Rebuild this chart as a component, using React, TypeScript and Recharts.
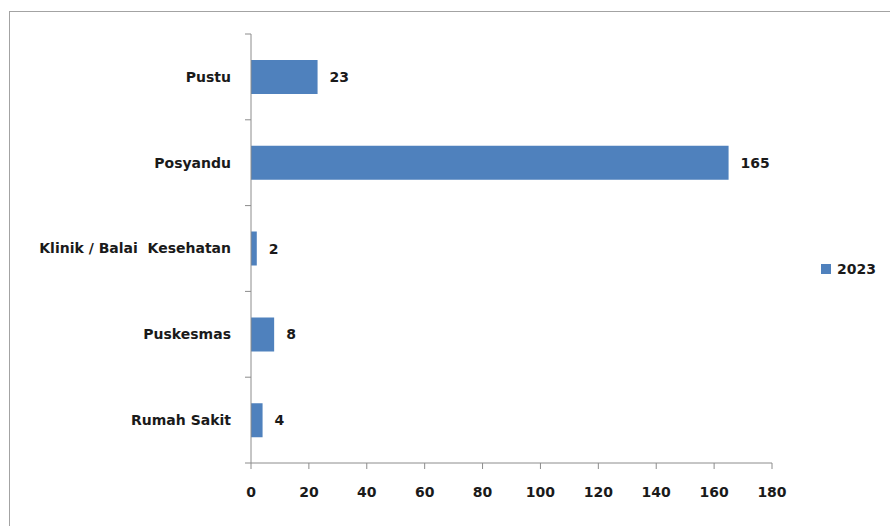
import React from 'react';
import { BarChart, Bar, XAxis, YAxis, Legend, LabelList } from 'recharts';

const categories = ['Pustu', 'Posyandu', 'Klinik / Balai  Kesehatan', 'Puskesmas', 'Rumah Sakit'];
const values2023 = [23, 165, 2, 8, 4];
const xTicks = [0, 20, 40, 60, 80, 100, 120, 140, 160, 180];
const seriesName = '2023';

const data = categories.map((name, i) => ({ name, v: values2023[i] }));

const FONT = "'DejaVu Sans', sans-serif";
const TEXT = '#1a1a1a';
const AXIS = '#8c8c8c';
const BAR = '#4F81BD';
const FS = 14;

const CHART_W = 890;
const CHART_H = 526;
const MARGIN = { top: 34, right: 118, bottom: 33, left: 11 };
const X_AXIS_H = 30;
const Y_AXIS_W = 240;
const plotH = CHART_H - MARGIN.top - MARGIN.bottom - X_AXIS_H;
const band = plotH / categories.length;

const YTick = (props: any) => {
  const { x, y, payload, index } = props;
  const half = band / 2;
  return (
    <g>
      <line x1={x - 6} x2={x} y1={y - half} y2={y - half} stroke={AXIS} strokeWidth={1} />
      {index === categories.length - 1 && (
        <line x1={x - 6} x2={x} y1={y + half} y2={y + half} stroke={AXIS} strokeWidth={1} />
      )}
      <text
        x={x - 20}
        y={y}
        dy="0.35em"
        textAnchor="end"
        fill={TEXT}
        fontFamily={FONT}
        fontWeight="bold"
        fontSize={FS}
        style={{ whiteSpace: 'pre' }}
      >
        {payload.value}
      </text>
    </g>
  );
};

const LegendContent = () => (
  <div style={{ display: 'flex', alignItems: 'center', fontFamily: FONT, fontWeight: 'bold', fontSize: FS, color: TEXT }}>
    <span style={{ display: 'inline-block', width: 10, height: 10, background: BAR, marginRight: 6 }} />
    <span>{seriesName}</span>
  </div>
);

export default function App() {
  return (
    <div style={{ position: 'absolute', left: 0, top: 0, width: CHART_W, height: CHART_H, overflow: 'hidden', background: '#fff' }}>
      <div
        style={{
          position: 'absolute',
          left: 9,
          top: 11,
          width: 1000,
          height: 1000,
          border: '1.5px solid #a3a3a3',
          boxSizing: 'border-box',
        }}
      />
      <div style={{ position: 'absolute', left: 0, top: 0 }}>
        <BarChart width={CHART_W} height={CHART_H} layout="vertical" data={data} margin={MARGIN}>
          <XAxis
            type="number"
            domain={[0, 180]}
            ticks={xTicks}
            interval={0}
            height={X_AXIS_H}
            stroke={AXIS}
            tickSize={6}
            tickMargin={18}
            tick={{ fill: TEXT, fontFamily: FONT, fontWeight: 'bold', fontSize: FS }}
          />
          <YAxis
            type="category"
            dataKey="name"
            width={Y_AXIS_W}
            stroke={AXIS}
            tickLine={false}
            tickSize={0}
            tickMargin={0}
            interval={0}
            tick={<YTick />}
          />
          <Legend
            layout="horizontal"
            verticalAlign="middle"
            align="center"
            wrapperStyle={{ left: 821, top: 261, width: 70, height: 18 }}
            content={<LegendContent />}
          />
          <Bar dataKey="v" name={seriesName} fill={BAR} barSize={34} isAnimationActive={false}>
            <LabelList
              dataKey="v"
              position="right"
              offset={12}
              fill={TEXT}
              fontFamily={FONT}
              fontWeight="bold"
              fontSize={FS}
            />
          </Bar>
        </BarChart>
      </div>
    </div>
  );
}
